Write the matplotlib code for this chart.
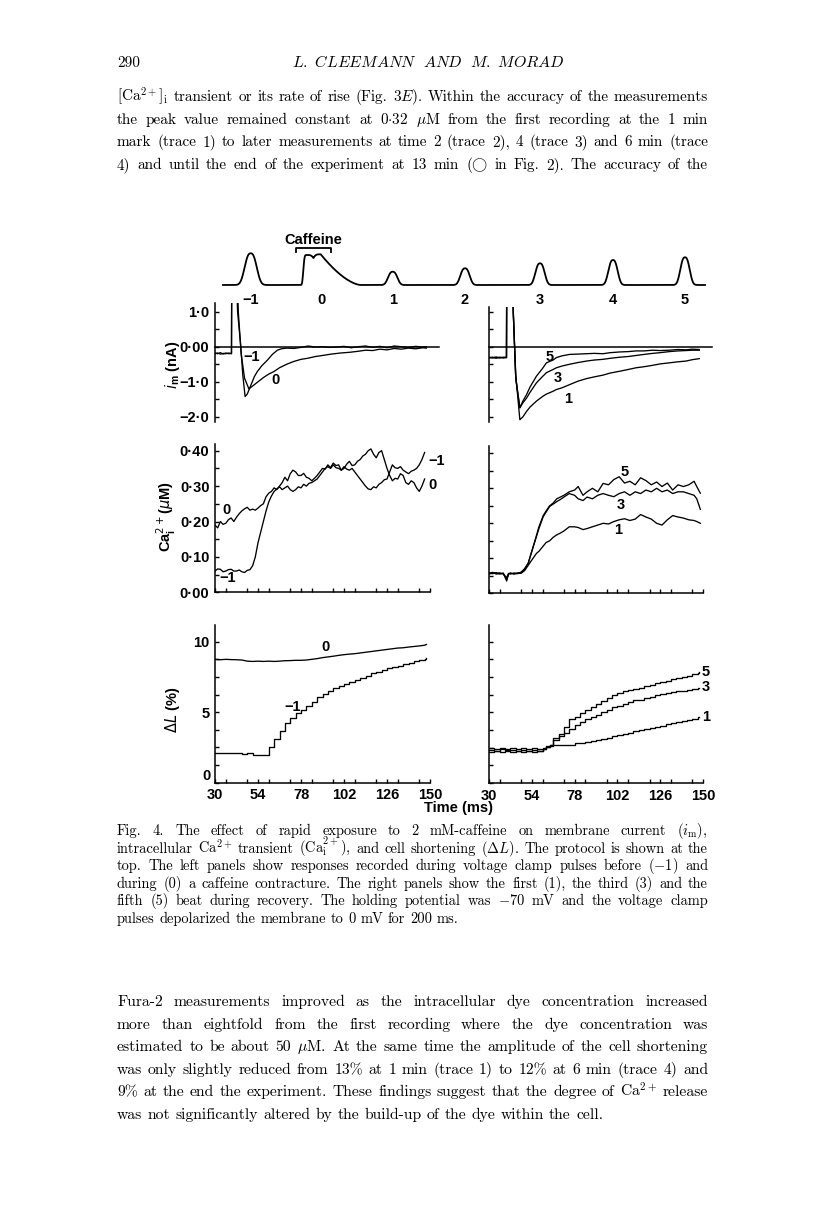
import matplotlib
matplotlib.use("Agg")
import matplotlib.pyplot as plt
import numpy as np
from matplotlib.ticker import MultipleLocator, FixedLocator

# ---------------- data ----------------
# membrane current (nA), left panel: beats -1 and 0 (caffeine)
im_t_m1 = [30, 31.5, 33, 34.5, 36, 37.5, 39.2, 39.4, 41.5, 42.6, 44.4, 45.5, 46.8, 48, 50, 52, 53.6, 56, 59.3,
           62, 64.8, 67, 70, 74, 78, 82, 86, 90, 94, 98, 102, 106, 110, 114, 118, 122, 126, 130, 134, 138,
           142, 146, 148]
im_v_m1 = [-0.18, -0.2, -0.17, -0.21, -0.18, -0.2, -0.19, 3.0, 3.0, 1.0, 0.0, -0.8, -1.42, -1.35, -1.1, -0.85,
           -0.71, -0.55, -0.38, -0.22, -0.1, -0.06, -0.04, -0.05, -0.02, 0.02, -0.01, 0.0, -0.02, -0.01, 0.01,
           -0.03, 0.0, 0.02, -0.02, 0.01, -0.03, 0.02, 0.0, -0.02, 0.01, -0.01, 0.0]
im_t_0 = [30, 31.5, 33, 34.5, 36, 37.5, 39.2, 39.4, 41.8, 43, 44.6, 46.5, 48.9, 51, 54, 57, 60, 62.8, 66, 70,
          74, 78, 81.7, 86, 90, 95, 100, 105, 110, 114, 118, 122, 126, 130, 134, 138, 142, 146, 148]
im_v_0 = [-0.2, -0.18, -0.21, -0.19, -0.2, -0.18, -0.2, 3.0, 3.0, 1.0, -0.2, -0.9, -1.2, -1.12, -1.0, -0.88,
          -0.78, -0.71, -0.6, -0.5, -0.42, -0.36, -0.33, -0.28, -0.25, -0.21, -0.18, -0.16, -0.13, -0.1, -0.11,
          -0.07, -0.09, -0.05, -0.07, -0.04, -0.06, -0.03, -0.04]

# membrane current (nA), right panel: beats 1, 3, 5
im_t_r = [30, 32, 34, 36, 38, 39.8, 40, 43, 43.6, 45, 47.3, 49, 51.1, 53, 56.6, 60, 62.2, 65.9, 67.8, 71,
          75.2, 80, 84.6, 89, 93.9, 98, 103.2, 108, 112.5, 117, 121.8, 126, 131.1, 136, 140.4, 144, 147.9]
im_v_1 = [-0.31, -0.3, -0.33, -0.3, -0.32, -0.31, 3.0, 3.0, 1.0, -0.8, -2.08, -2.0, -1.84, -1.72, -1.55, -1.42,
          -1.35, -1.27, -1.22, -1.17, -1.08, -0.98, -0.91, -0.86, -0.81, -0.75, -0.7, -0.65, -0.6, -0.57, -0.53,
          -0.49, -0.46, -0.43, -0.41, -0.37, -0.34]
im_v_3 = [-0.3, -0.32, -0.3, -0.31, -0.3, -0.31, 3.0, 3.0, 1.0, -0.9, -1.74, -1.6, -1.46, -1.3, -1.03, -0.85,
          -0.74, -0.65, -0.6, -0.55, -0.5, -0.45, -0.41, -0.38, -0.36, -0.33, -0.3, -0.28, -0.25, -0.22, -0.19,
          -0.17, -0.14, -0.12, -0.11, -0.1, -0.1]
im_v_5 = [-0.32, -0.31, -0.3, -0.32, -0.31, -0.3, 3.0, 3.0, 1.0, -0.9, -1.74, -1.55, -1.36, -1.15, -0.84, -0.62,
          -0.46, -0.38, -0.31, -0.26, -0.22, -0.21, -0.2, -0.19, -0.2, -0.17, -0.15, -0.14, -0.12, -0.12, -0.1,
          -0.11, -0.1, -0.08, -0.09, -0.07, -0.08]

# intracellular Ca (uM), left panel, sampled every 1.5 ms from 30 ms
ca_t_l = [30 + 1.5 * i for i in range(79)]
ca_v_0 = [0.19, 0.182, 0.20, 0.192, 0.195, 0.205, 0.21, 0.20, 0.212, 0.222,
          0.23, 0.236, 0.24, 0.232, 0.235, 0.232, 0.238, 0.245, 0.25, 0.27,
          0.28, 0.285, 0.295, 0.29, 0.30, 0.31, 0.325, 0.315, 0.335, 0.345,
          0.34, 0.33, 0.33, 0.336, 0.325, 0.322, 0.315, 0.322, 0.33, 0.34,
          0.35, 0.348, 0.36, 0.352, 0.365, 0.358, 0.36, 0.345, 0.35, 0.362,
          0.37, 0.358, 0.36, 0.37, 0.375, 0.385, 0.39, 0.40, 0.405, 0.39,
          0.38, 0.395, 0.40, 0.375, 0.35, 0.33, 0.315, 0.322, 0.32, 0.335,
          0.33, 0.31, 0.305, 0.315, 0.31, 0.295, 0.285, 0.30, 0.32]
ca_v_m1 = [0.06, 0.066, 0.065, 0.058, 0.06, 0.064, 0.065, 0.06, 0.06, 0.063,
           0.058, 0.056, 0.062, 0.064, 0.075, 0.1, 0.14, 0.17, 0.2, 0.23,
           0.255, 0.272, 0.285, 0.292, 0.298, 0.29, 0.295, 0.3, 0.29, 0.285,
           0.29, 0.298, 0.295, 0.305, 0.30, 0.308, 0.31, 0.315, 0.32, 0.33,
           0.34, 0.35, 0.355, 0.35, 0.36, 0.352, 0.35, 0.345, 0.355, 0.348,
           0.345, 0.35, 0.34, 0.33, 0.32, 0.31, 0.30, 0.292, 0.29, 0.298,
           0.295, 0.305, 0.31, 0.318, 0.32, 0.34, 0.36, 0.352, 0.35, 0.355,
           0.345, 0.34, 0.335, 0.342, 0.345, 0.35, 0.36, 0.375, 0.395]

# intracellular Ca (uM), right panel
ca_t_r = [30, 32, 34, 36, 38, 39.9, 41, 42, 44, 46, 48, 50, 52, 54, 56.6, 58, 60.4, 62, 64, 66, 68, 70, 72, 75,
          78, 80, 82.7, 85, 88, 91, 94, 97, 100, 103, 106, 109, 112, 115, 118, 121, 124, 127, 130, 133, 136,
          139, 142, 145, 146.5, 148.5]
ca_v_1 = [0.057, 0.06, 0.055, 0.058, 0.056, 0.04, 0.056, 0.058, 0.055, 0.057, 0.057, 0.065, 0.08, 0.095, 0.114,
          0.12, 0.135, 0.145, 0.15, 0.16, 0.167, 0.172, 0.178, 0.19, 0.19, 0.188, 0.182, 0.185, 0.19, 0.195, 0.2,
          0.198, 0.205, 0.21, 0.213, 0.208, 0.212, 0.225, 0.218, 0.212, 0.2, 0.195, 0.21, 0.222, 0.218, 0.215,
          0.21, 0.208, 0.205, 0.2]
ca_v_3 = [0.055, 0.058, 0.057, 0.055, 0.058, 0.035, 0.055, 0.057, 0.056, 0.058, 0.06, 0.07, 0.086, 0.12, 0.162,
          0.185, 0.219, 0.232, 0.248, 0.255, 0.262, 0.268, 0.275, 0.285, 0.28, 0.27, 0.265, 0.275, 0.27, 0.28,
          0.285, 0.28, 0.276, 0.285, 0.29, 0.28, 0.29, 0.285, 0.295, 0.29, 0.3, 0.29, 0.295, 0.285, 0.29, 0.29,
          0.285, 0.28, 0.27, 0.24]
ca_v_5 = [0.058, 0.056, 0.059, 0.057, 0.055, 0.045, 0.057, 0.055, 0.058, 0.056, 0.06, 0.07, 0.086, 0.12, 0.165,
          0.19, 0.222, 0.235, 0.25, 0.258, 0.27, 0.275, 0.28, 0.29, 0.295, 0.305, 0.28, 0.29, 0.3, 0.29, 0.314,
          0.31, 0.325, 0.333, 0.315, 0.32, 0.31, 0.33, 0.322, 0.31, 0.318, 0.305, 0.315, 0.295, 0.31, 0.305,
          0.31, 0.32, 0.305, 0.286]

# cell shortening (%), left panel
dl_t_l = [30, 33, 36, 39, 42, 45, 48, 51, 54, 57, 60, 63, 66, 69, 72, 75, 78, 81, 84, 87, 90, 93, 96, 99, 102,
          105, 108, 111, 114, 117, 120, 123, 126, 129, 132, 135, 138, 141, 144, 147, 148]
dl_v_m1 = [2.1, 2.08, 2.1, 2.08, 2.1, 2.05, 2.08, 2.0, 1.95, 2.0, 2.5, 3.1, 3.7, 4.2, 4.6, 4.95, 5.15, 5.45,
           5.75, 6.05, 6.3, 6.5, 6.7, 6.85, 7.0, 7.15, 7.3, 7.45, 7.6, 7.75, 7.85, 8.0, 8.1, 8.2, 8.3, 8.4, 8.5,
           8.6, 8.7, 8.8, 8.85]
dl_v_0 = [8.75, 8.72, 8.75, 8.73, 8.72, 8.7, 8.62, 8.6, 8.62, 8.6, 8.62, 8.6, 8.62, 8.65, 8.66, 8.68, 8.68, 8.7,
          8.75, 8.8, 8.87, 8.92, 8.97, 9.03, 9.08, 9.12, 9.15, 9.2, 9.25, 9.3, 9.35, 9.4, 9.45, 9.5, 9.55, 9.57,
          9.62, 9.66, 9.7, 9.75, 9.8]

# cell shortening (%), right panel
dl_t_r = [30, 33, 36, 39, 42, 45, 48, 51, 54, 57, 60, 62, 64, 66, 69, 72, 75, 78, 81, 84, 87, 90, 93, 96, 99,
          102, 105, 108, 111, 114, 117, 120, 123, 126, 129, 132, 135, 138, 141, 144, 147, 148]
dl_v_5 = [2.45, 2.4, 2.5, 2.42, 2.48, 2.4, 2.45, 2.42, 2.48, 2.4, 2.5, 2.6, 2.7, 3.2, 3.5, 4.0, 4.5, 4.7, 4.95,
          5.2, 5.4, 5.6, 5.8, 6.0, 6.2, 6.35, 6.5, 6.6, 6.65, 6.75, 6.85, 6.95, 7.05, 7.15, 7.25, 7.35, 7.45,
          7.52, 7.6, 7.7, 7.8, 7.85]
dl_v_3 = [2.35, 2.3, 2.38, 2.32, 2.36, 2.3, 2.35, 2.3, 2.36, 2.3, 2.4, 2.55, 2.7, 3.06, 3.3, 3.55, 3.8, 4.1,
          4.35, 4.55, 4.7, 4.8, 5.0, 5.2, 5.35, 5.45, 5.6, 5.75, 5.85, 5.9, 6.0, 6.1, 6.2, 6.3, 6.35, 6.45, 6.5,
          6.55, 6.6, 6.68, 6.72, 6.75]
dl_v_1 = [2.2, 2.25, 2.2, 2.28, 2.2, 2.25, 2.2, 2.26, 2.2, 2.25, 2.4, 2.55, 2.65, 2.7, 2.7, 2.7, 2.72, 2.8, 2.85,
          2.92, 3.0, 3.05, 3.15, 3.22, 3.3, 3.38, 3.48, 3.55, 3.65, 3.72, 3.8, 3.9, 3.98, 4.05, 4.15, 4.22, 4.3,
          4.38, 4.45, 4.55, 4.65, 4.7]

# protocol schematic (arbitrary units)
beat_labels = ["\u22121", "0", "1", "2", "3", "4", "5"]
beat_pos = [50.7, 122, 192.7, 265, 340, 413, 485]
beat_height = [31.7, 30.7, 13.3, 16.7, 21.7, 25.0, 27.7]

x_ticks = [30, 54, 78, 102, 126, 150]

# ---------------- figure ----------------
W, H = 816, 1206
fig = plt.figure(figsize=(W / 100, H / 100), dpi=100)
SANS = ["Liberation Sans", "DejaVu Sans"]
SERIF = ["cmr10", "DejaVu Serif"]
LW = 0.95
FS = 10.5


def add_ax(x0, top, w, h):
    return fig.add_axes([x0 / W, 1 - (top + h) / H, w / W, h / H])


def px(x, y):
    return x / W, 1 - y / H


def boldify(labels, size=FS):
    for lab in labels:
        lab.set_family(SANS)
        lab.set_fontweight("bold")
        lab.set_fontsize(size)


def style(ax, show_bottom=True):
    for s in ["top", "right"]:
        ax.spines[s].set_visible(False)
    ax.spines["bottom"].set_visible(show_bottom)
    for s in ["left", "bottom"]:
        ax.spines[s].set_linewidth(1.1)
    ax.tick_params(direction="in", length=3, width=1, labelsize=FS, pad=4)
    ax.tick_params(which="minor", direction="in", length=3, width=1)
    ax.patch.set_alpha(0)


def tlabel(ax, t, v, s):
    ax.text(t, v, s, ha="center", va="center", fontsize=FS, family=SANS, fontweight="bold", clip_on=False)


LX, RX, AW = 215, 489, 215
xlim = (30, 150)

# --- membrane current ---
y0, k = 346.7, 35.1
ax_il = add_ax(LX, y0 - 1.25 * k, AW, 3.4 * k)
ax_il.set_ylim(-2.15, 1.25)
ax_ir = add_ax(RX, y0 - 1.12 * k, AW - 1, 3.27 * k)
ax_ir.set_ylim(-2.15, 1.12)

for ax in (ax_il, ax_ir):
    ax.set_xlim(*xlim)
    style(ax, show_bottom=False)
    ax.set_xticks([])
    ax.plot([30, 155], [0, 0], color="black", lw=1.1, clip_on=False)

ax_il.plot(im_t_m1, im_v_m1, color="black", lw=LW)
ax_il.plot(im_t_0, im_v_0, color="black", lw=LW)
ax_il.yaxis.set_major_locator(FixedLocator([1, 0, -1, -2]))
ax_il.yaxis.set_minor_locator(FixedLocator([0.5, -0.5, -1.5]))
ax_il.set_yticklabels(["1\u00b70", "0\u00b700", "\u22121\u00b70", "\u22122\u00b70"])
boldify(ax_il.get_yticklabels())
tlabel(ax_il, 50.6, -0.29, "\u22121")
tlabel(ax_il, 63.5, -0.95, "0")

for v in (im_v_1, im_v_3, im_v_5):
    ax_ir.plot(im_t_r, v, color="black", lw=LW)
ax_ir.yaxis.set_major_locator(FixedLocator([1, 0.5, 0, -0.5, -1, -1.5, -2]))
ax_ir.set_yticklabels([])
for lab, t, v in (("5", 64, -0.29), ("3", 68.5, -0.89), ("1", 74.6, -1.49)):
    tlabel(ax_ir, t, v, lab)

# --- intracellular Ca ---
ax_cl = add_ax(LX, 592.3 - 0.42 * 354, AW, 0.42 * 354)
ax_cr = add_ax(RX, 593.3 - 0.42 * 350, AW - 1, 0.42 * 350)
for ax in (ax_cl, ax_cr):
    ax.set_xlim(*xlim)
    ax.set_ylim(0, 0.42)
    style(ax)
    ax.xaxis.set_major_locator(FixedLocator(x_ticks))
    ax.xaxis.set_minor_locator(MultipleLocator(12))
    ax.set_xticklabels([])
    ax.yaxis.set_minor_locator(MultipleLocator(0.05))
ax_cl.yaxis.set_major_locator(FixedLocator([0, 0.1, 0.2, 0.3, 0.4]))
ax_cl.set_yticklabels(["0\u00b700", "0\u00b710", "0\u00b720", "0\u00b730", "0\u00b740"])
boldify(ax_cl.get_yticklabels())
ax_cr.yaxis.set_major_locator(FixedLocator([0, 0.1, 0.2, 0.3, 0.4]))
ax_cr.set_yticklabels([])
ax_cl.plot(ca_t_l, ca_v_0, color="black", lw=LW)
ax_cl.plot(ca_t_l, ca_v_m1, color="black", lw=LW)
for lab, t, v in (("0", 36.5, 0.232), ("\u22121", 37.3, 0.04), ("\u22121", 153.5, 0.372), ("0", 151.5, 0.303)):
    tlabel(ax_cl, t, v, lab)
for v in (ca_v_1, ca_v_3, ca_v_5):
    ax_cr.plot(ca_t_r, v, color="black", lw=LW)
for lab, t, v in (("5", 106, 0.347), ("3", 104, 0.252), ("1", 102.2, 0.18)):
    tlabel(ax_cr, t, v, lab)

# --- cell shortening ---
ax_dl = add_ax(LX, 782.7 - 11.2 * 14.1, AW, 11.2 * 14.1)
ax_dr = add_ax(RX, 783.0 - 11.2 * 14.12, AW - 1, 11.2 * 14.12)
for ax in (ax_dl, ax_dr):
    ax.set_xlim(*xlim)
    ax.set_ylim(0, 11.2)
    style(ax)
    ax.xaxis.set_major_locator(FixedLocator(x_ticks))
    ax.xaxis.set_minor_locator(MultipleLocator(12))
    ax.set_xticklabels([str(t) for t in x_ticks])
    ax.yaxis.set_minor_locator(MultipleLocator(1.25))
    boldify(ax.get_xticklabels())
ax_dl.yaxis.set_major_locator(FixedLocator([5, 10]))
ax_dl.set_yticklabels(["5", "10"])
boldify(ax_dl.get_yticklabels())
ax_dr.yaxis.set_major_locator(FixedLocator([10]))
ax_dr.set_yticklabels([])
ax_dl.text(-0.02, 0.0, "0", transform=ax_dl.transAxes, ha="right", va="bottom", fontsize=FS,
           family=SANS, fontweight="bold")

ax_dl.plot(dl_t_l, dl_v_m1, color="black", lw=LW, drawstyle="steps-post")
ax_dl.plot(dl_t_l, dl_v_0, color="black", lw=LW)
tlabel(ax_dl, 73.5, 5.37, "\u22121")
tlabel(ax_dl, 91.4, 9.63, "0")
for v in (dl_v_1, dl_v_3, dl_v_5):
    ax_dr.plot(dl_t_r, v, color="black", lw=LW, drawstyle="steps-post")
for lab, v in (("5", 7.85), ("3", 6.8), ("1", 4.64)):
    tlabel(ax_dr, 151.5, v, lab)

# axis labels
fig.text(*px(173, 365), r"$i_\mathregular{m}$ (nA)", rotation=90, ha="center", va="center", fontsize=FS,
         family=SANS, fontweight="bold", math_fontfamily="dejavusans")
fig.text(*px(166, 517), r"Ca$_\mathregular{i}^{2+}$($\mu$M)", rotation=90, ha="center", va="center",
         fontsize=FS, family=SANS, fontweight="bold", math_fontfamily="dejavusans")
fig.text(*px(172, 710), r"$\Delta L$ (%)", rotation=90, ha="center", va="center", fontsize=FS,
         family=SANS, fontweight="bold", math_fontfamily="dejavusans")
fig.text(*px(459, 808), "Time (ms)", ha="center", va="center", fontsize=FS, family=SANS, fontweight="bold")

# --- protocol ---
ax_p = add_ax(200, 230, 520, 80)
ax_p.set_xlim(0, 520)
ax_p.set_ylim(-25, 55)
ax_p.axis("off")
xp = np.linspace(23, 505, 3000)


def bump(x, c, wl, wr, p=3.0):
    w = np.where(x < c, wl, wr)
    return np.exp(-np.abs((x - c) / w) ** p)


yp = np.zeros_like(xp)
for i, (c, hgt) in enumerate(zip(beat_pos, beat_height)):
    if i == 1:
        rise = np.maximum(30.0 * bump(xp, 106.5, 3.5, 12, 4), hgt * bump(xp, 120.7, 12, 1e9, 4))
        decay = hgt * np.clip(1 - (xp - 120.7) / 40.0, 0, 1) ** 1.6
        caf = np.where(xp <= 120.7, rise, decay)
        yp = np.maximum(yp, caf)
    else:
        wdt = 7.5 if i == 0 else 5.8
        yp = np.maximum(yp, hgt * bump(xp, c, wdt, wdt, 2.6))
ax_p.plot(xp, yp, color="black", lw=1.3)
for lab, c in zip(beat_labels, beat_pos):
    ax_p.text(c, -15, lab, ha="center", va="center", fontsize=FS, family=SANS, fontweight="bold")
ax_p.plot([96, 96, 131, 131], [33.5, 37, 37, 33.5], color="black", lw=1.3)
ax_p.text(113, 45, "Caffeine", ha="center", va="center", fontsize=FS, family=SANS, fontweight="bold")

# ---------------- page text ----------------
renderer = fig.canvas.get_renderer()
X0, X1 = 117, 708


def make_words(line, size):
    return [fig.text(0, 0, w, fontsize=size, family=SERIF, va="baseline", ha="left", math_fontfamily="cm")
            for w in line.split(" ")]


def natural_width(line, size):
    objs = make_words(line, size)
    wsum = sum(o.get_window_extent(renderer).width for o in objs)
    for o in objs:
        o.remove()
    return wsum + (len(objs) - 1) * 0.333 * size * 100 / 72


def block(lines, y_first, step, last_free):
    test = 10.0
    justified = lines[:-1] if last_free else lines
    size = min(test * (X1 - X0) / natural_width(l, test) for l in justified) * 0.995
    for i, line in enumerate(lines):
        objs = make_words(line, size)
        widths = [o.get_window_extent(renderer).width for o in objs]
        if last_free and i == len(lines) - 1:
            gap = 0.333 * size * 100 / 72
        else:
            gap = (X1 - X0 - sum(widths)) / (len(objs) - 1)
        x = X0
        for o, wd in zip(objs, widths):
            o.set_position(px(x, y_first + i * step))
            x += wd + gap
    return size


fig.text(*px(117, 67), "290", fontsize=11, family=SERIF, va="baseline", ha="left")
fig.text(*px(428, 67), r"$\mathit{L.\ CLEEMANN\ \ AND\ \ M.\ MORAD}$", fontsize=11.5, family=SERIF,
         va="baseline", ha="center", math_fontfamily="cm")

para1 = [
    r"[Ca$^{2+}$]$_\mathrm{i}$ transient or its rate of rise (Fig. 3$E$). Within the accuracy of the measurements",
    r"the peak value remained constant at 0$\cdot$32 $\mu$M from the first recording at the 1 min",
    "mark (trace 1) to later measurements at time 2 (trace 2), 4 (trace 3) and 6 min (trace",
    r"4) and until the end of the experiment at 13 min ($\bigcirc$ in Fig. 2). The accuracy of the",
]
block(para1, 101, 22.7, last_free=False)

caption = [
    r"Fig. 4. The effect of rapid exposure to 2 mM-caffeine on membrane current ($i_\mathrm{m}$),",
    r"intracellular Ca$^{2+}$ transient (Ca$^{2+}_\mathrm{i}$), and cell shortening ($\Delta{L}$). The protocol is shown at the",
    r"top. The left panels show responses recorded during voltage clamp pulses before ($-$1) and",
    "during (0) a caffeine contracture. The right panels show the first (1), the third (3) and the",
    r"fifth (5) beat during recovery. The holding potential was $-$70 mV and the voltage clamp",
    "pulses depolarized the membrane to 0 mV for 200 ms.",
]
block(caption, 835, 17.6, last_free=True)

para2 = [
    "Fura-2 measurements improved as the intracellular dye concentration increased",
    "more than eightfold from the first recording where the dye concentration was",
    r"estimated to be about 50 $\mu$M. At the same time the amplitude of the cell shortening",
    "was only slightly reduced from 13% at 1 min (trace 1) to 12% at 6 min (trace 4) and",
    r"9% at the end the experiment. These findings suggest that the degree of Ca$^{2+}$ release",
    "was not significantly altered by the build-up of the dye within the cell.",
]
block(para2, 1006, 22.6, last_free=True)

fig.savefig("out.png", dpi=100)
